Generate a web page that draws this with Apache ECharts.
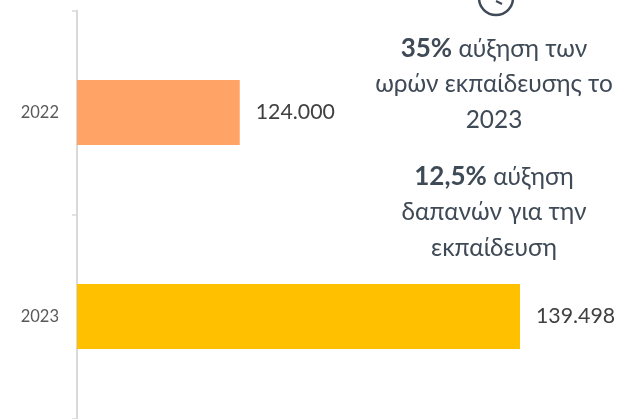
<!DOCTYPE html>
<html><head><meta charset="utf-8">
<style>html,body{margin:0;padding:0;background:#fff}#c{width:618px;height:419px}</style>
<script src="https://cdn.jsdelivr.net/npm/echarts@6/dist/echarts.min.js"></script>
</head><body><div id="c"></div>
<script>
const categories = ['2022', '2023'];
const values = [124000, 139498];
const valueLabels = ['124.000', '139.498'];
const barColors = ['#FFA366', '#FFC000'];
const note1 = [['35%', ' αύξηση των'], ['', 'ωρών εκπαίδευσης το'], ['', '2023']];
const note2 = [['12,5%', ' αύξηση'], ['', 'δαπανών για την'], ['', 'εκπαίδευση']];
const F = 'Lato,"Open Sans","Noto Sans",sans-serif';
const TXT = '#3F4A57';
const toRich = n => n.map(l => (l[0] ? '{b|' + l[0] + '}' : '') + '{n|' + l[1] + '}').join('\n');
const noteStyle = n => ({
  text: toRich(n), align: 'center', verticalAlign: 'top',
  rich: {
    b: {font: 'bold 26px ' + F, fill: TXT, color: TXT, lineHeight: 35.5},
    n: {font: '24.4px ' + F, fill: TXT, color: TXT, lineHeight: 35.5}
  }
});
const chart = echarts.init(document.getElementById('c'), null, {renderer: 'canvas'});
chart.setOption({
  animation: false,
  grid: {left: 77, top: 10.7, width: 500, height: 407.6},
  xAxis: {type: 'value', min: 115000, max: 142650, show: false},
  yAxis: {
    type: 'category', inverse: true, data: categories,
    axisLine: {show: true, lineStyle: {color: '#D9D9D9', width: 2}},
    axisTick: {show: true, length: 5, alignWithLabel: false, lineStyle: {color: '#D9D9D9', width: 1.5}},
    axisLabel: {color: '#595959', fontSize: 16.5, margin: 18, fontFamily: F}
  },
  series: [{
    type: 'bar', barWidth: 65,
    data: values.map((v, i) => ({value: v, itemStyle: {color: barColors[i]}})),
    label: {
      show: true, position: 'right', distance: 16,
      formatter: p => valueLabels[p.dataIndex],
      color: '#404040', fontSize: 21.3, fontFamily: F
    }
  }],
  graphic: [
    {type: 'circle', shape: {cx: 496, cy: -2, r: 17}, style: {fill: 'none', stroke: '#3F4A57', lineWidth: 2.5}},
    {type: 'line', shape: {x1: 496, y1: 1, x2: 502, y2: 4}, style: {stroke: '#3F4A57', lineWidth: 2}},
    {type: 'text', x: 494, y: 31, style: noteStyle(note1)},
    {type: 'text', x: 494, y: 159, style: noteStyle(note2)}
  ]
});
</script></body></html>
